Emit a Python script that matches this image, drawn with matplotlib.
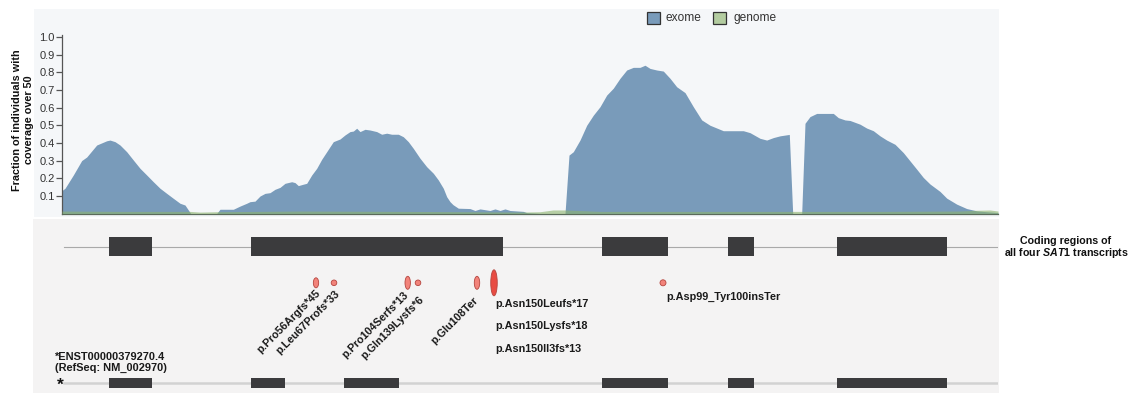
import matplotlib
matplotlib.use("Agg")
import matplotlib.pyplot as plt
from matplotlib.patches import Rectangle, Ellipse

plt.rcParams['font.family'] = ['Liberation Sans', 'DejaVu Sans']
plt.rcParams['mathtext.fontset'] = 'custom'
plt.rcParams['mathtext.it'] = 'Liberation Sans:italic:bold'
plt.rcParams['mathtext.rm'] = 'Liberation Sans:bold'
plt.rcParams['mathtext.bf'] = 'Liberation Sans:bold'

# ---------------- data ----------------
exome_pos = [62, 65, 73.3, 81.7, 86.7, 96.7, 106.7, 110, 115, 120, 126.7, 133.3, 140,
             146.7, 153.3, 160, 166.7, 173.3, 180, 185, 188.3, 190.7,
             216.7, 220, 233.3, 240, 246.7,
             250, 255, 260, 265, 270, 275, 280, 285, 291.7, 295, 298.3, 303.3, 306.7,
             311.7, 316.7, 321.7, 326.7, 333.3, 340, 345, 350, 353.3, 356.7, 360, 365,
             370, 376.7, 381.7, 386.7, 391.7, 398.3, 403.3, 408.3, 413.3, 420, 426.7,
             433.3, 438.3, 443.3, 446.7, 450, 453, 458.3, 470, 475, 480, 490, 495, 500,
             505, 510, 523.3, 526.7, 540, 565,
             569, 573.3, 580, 586.7, 593.3, 600, 606.7, 613.3, 620, 626.7, 633.3, 640,
             645, 650, 656.7, 663.3, 670, 676.7, 685, 693.3, 701.7, 710, 723.3, 743.3,
             750, 760, 766.7, 773.3, 780, 789.3, 792.7, 801.7,
             805, 810, 816.7, 833.3, 838.3, 845, 850, 860, 866.7, 873.3, 880, 886.7,
             895, 903.3, 910, 916.7, 923.3, 930, 940, 946.7, 956.7, 966.7, 976.7,
             986.7, 998]
exome_cov = [0.13, 0.143, 0.218, 0.30, 0.32, 0.388, 0.412, 0.416, 0.407, 0.388, 0.35,
             0.303, 0.256, 0.218, 0.18, 0.143, 0.114, 0.086, 0.058, 0.048, 0.02, 0.0,
             0.0, 0.024, 0.024, 0.042, 0.058,
             0.067, 0.07, 0.099, 0.114, 0.118, 0.137, 0.148, 0.171, 0.18, 0.175, 0.158,
             0.166, 0.171, 0.218, 0.256, 0.307, 0.35, 0.407, 0.422, 0.445, 0.464, 0.467,
             0.483, 0.464, 0.477, 0.473, 0.464, 0.449, 0.455, 0.449, 0.449, 0.435,
             0.407, 0.369, 0.313, 0.265, 0.228, 0.19, 0.143, 0.095, 0.067, 0.05, 0.03,
             0.028, 0.017, 0.026, 0.017, 0.026, 0.017, 0.026, 0.017, 0.012, 0.005,
             0.0, 0.0,
             0.331, 0.35, 0.416, 0.50, 0.557, 0.605, 0.671, 0.71, 0.766, 0.813, 0.828,
             0.828, 0.84, 0.822, 0.813, 0.807, 0.766, 0.718, 0.685, 0.605, 0.53, 0.50,
             0.469, 0.469, 0.458, 0.426, 0.416, 0.43, 0.44, 0.448, 0.0, 0.0,
             0.511, 0.549, 0.567, 0.567, 0.543, 0.53, 0.527, 0.506, 0.484, 0.469, 0.44,
             0.416, 0.392, 0.345, 0.298, 0.251, 0.204, 0.167, 0.125, 0.087, 0.053,
             0.028, 0.015, 0.01, 0.005]

genome_pos = [62, 120, 190, 200, 216, 300, 400, 470, 520, 540, 553, 565, 600, 700,
              790, 800, 880, 960, 975, 990, 998]
genome_cov = [0.014, 0.012, 0.012, 0.008, 0.01, 0.014, 0.012, 0.01, 0.008, 0.01, 0.02,
              0.02, 0.012, 0.012, 0.012, 0.012, 0.012, 0.014, 0.018, 0.02, 0.014]

yticks = [0.1, 0.2, 0.3, 0.4, 0.5, 0.6, 0.7, 0.8, 0.9, 1.0]
ytick_labels = ['0.1', '0.2', '0.3', '0.4', '0.5', '0.6', '0.7', '0.8', '0.9', '1.0']

exon_start_all = [109, 251, 601.7, 728, 837]
exon_end_all = [152, 502.7, 668.3, 754.3, 946.7]
exon_start_ref = [109, 251, 344.3, 601.7, 728, 837]
exon_end_ref = [152, 285, 399, 668.3, 754.3, 946.7]

mut_pos = [316, 334, 407.7, 418, 477, 494, 663]
mut_width = [5.3, 5.6, 5.4, 5.6, 5.4, 6.5, 6.0]
mut_height = [10, 5.6, 13, 5.6, 13, 26, 6.0]
mut_color = ['#f2837a', '#f2837a', '#f2837a', '#f2837a', '#f2837a', '#e84c43', '#f2837a']

rot_labels = ['p.Pro56Argfs*45', 'p.Leu67Profs*33', 'p.Pro104Serfs*13',
              'p.Gln139Lysfs*6', 'p.Glu108Ter']
flat_labels = ['p.Asn150Leufs*17', 'p.Asn150Lysfs*18', 'p.Asn150Il3fs*13']
ins_label = 'p.Asp99_Tyr100insTer'

W, H = 1131, 393
fig = plt.figure(figsize=(W / 100, H / 100), dpi=100)
fig.patch.set_facecolor('white')

def fr(x0, y0, x1, y1):
    return [x0 / W, 1 - y1 / H, (x1 - x0) / W, (y1 - y0) / H]

# panel backgrounds
fig.add_artist(Rectangle((34 / W, 1 - 217 / H), (999 - 34) / W, (217 - 9) / H,
                         transform=fig.transFigure, facecolor='#f5f7f9',
                         edgecolor='none', zorder=-10))
fig.add_artist(Rectangle((33 / W, 0), (999 - 33) / W, (393 - 219) / H,
                         transform=fig.transFigure, facecolor='#f4f3f3',
                         edgecolor='none', zorder=-10))

# ---------------- coverage axes ----------------
y0px, y1px = 213.5, 35
ax = fig.add_axes(fr(62, y1px, 998, y0px))
ax.set_facecolor('none')
ax.set_xlim(62, 998)
ax.set_ylim(0, (y0px - y1px) / 176.5)
ax.fill_between(exome_pos, exome_cov, 0, color='#799bba', linewidth=0, zorder=2)
ax.fill_between(genome_pos, genome_cov, 0, color='#8cb46e', alpha=0.6,
                linewidth=0, zorder=3)
ax.set_yticks(yticks)
ax.set_yticklabels(ytick_labels)
ax.set_xticks([])
ax.tick_params(axis='y', length=4.3, width=0.9, color='#555555', labelsize=8,
               labelcolor='#333333', pad=1)
for s in ['top', 'right']:
    ax.spines[s].set_visible(False)
ax.spines['left'].set_color('#555555')
ax.spines['left'].set_linewidth(0.9)
ax.spines['bottom'].set_color('#5a6a5a')
ax.spines['bottom'].set_linewidth(0.9)

# ---------------- overlay (pixel coords) ----------------
ov = fig.add_axes([0, 0, 1, 1])
ov.set_xlim(0, W)
ov.set_ylim(H, 0)
ov.axis('off')
ov.set_zorder(5)

ov.text(23.5, 120, 'Fraction of individuals with\ncoverage over 50', rotation=90,
        ha='center', va='center', fontsize=7.8, fontweight='bold',
        linespacing=1.25, color='#111111')

# legend
ov.add_patch(Rectangle((647, 11.7), 13, 12.6, facecolor='#799bba',
                       edgecolor='#333333', linewidth=0.9))
ov.text(666, 18.3, 'exome', ha='left', va='center', fontsize=8.6, color='#333333')
ov.add_patch(Rectangle((713.3, 11.7), 13, 12.6, facecolor='#b3cca0',
                       edgecolor='#333333', linewidth=0.9))
ov.text(733.3, 18.3, 'genome', ha='left', va='center', fontsize=8.6, color='#333333')

ov.text(1066, 241, 'Coding regions of', ha='center', va='center', fontsize=7.7,
        fontweight='bold', color='#111111')
ov.text(1066, 253.5, r'all four $\mathit{SAT1}$ transcripts', ha='center',
        va='center', fontsize=7.7, fontweight='bold', color='#111111')

# ---------------- gene model axes ----------------
gx = fig.add_axes(fr(62, 218, 998, 393))
gx.set_xlim(62, 998)
gx.set_ylim(393, 218)
gx.axis('off')
gx.set_zorder(4)

row1_y, row2_y = 246.5, 383.0
gx.plot([64, 996.7], [row1_y, row1_y], color='#a9a9a9', linewidth=0.8, zorder=1)
gx.plot([64, 996.7], [row2_y, row2_y], color='#d2d2d2', linewidth=1.8, zorder=1)
gx.barh([row1_y] * len(exon_start_all),
        [e - s for s, e in zip(exon_start_all, exon_end_all)],
        left=exon_start_all, height=19, color='#3b3b3d', zorder=2)
gx.barh([row2_y] * len(exon_start_ref),
        [e - s for s, e in zip(exon_start_ref, exon_end_ref)],
        left=exon_start_ref, height=9.5, color='#3b3b3d', zorder=2)

for x, w, h, c in zip(mut_pos, mut_width, mut_height, mut_color):
    gx.add_patch(Ellipse((x, 282.8), w, h, facecolor=c, edgecolor='#b5453f',
                         linewidth=0.6, zorder=3))

rot_anchor = [(3, 291), (4.3, 292.3), (-1, 293.3), (4.7, 298.3), (-0.3, 299)]
for lab, x, (dx, yy) in zip(rot_labels, mut_pos[:5], rot_anchor):
    gx.text(x + dx, yy, lab, rotation=45, rotation_mode='anchor', ha='right',
            va='center', fontsize=7.8, fontweight='bold', color='#1a1a1a')

for lab, yy in zip(flat_labels, [304, 326, 349.3]):
    gx.text(mut_pos[5] + 1, yy, lab, ha='left', va='center', fontsize=7.8,
            fontweight='bold', color='#1a1a1a')
gx.text(mut_pos[6] + 3, 296.7, ins_label, ha='left', va='center', fontsize=7.8,
        fontweight='bold', color='#1a1a1a')

gx.text(55, 357, '*ENST00000379270.4', ha='left', va='center', fontsize=7.9,
        fontweight='bold', color='#1a1a1a')
gx.text(55, 368.3, '(RefSeq: NM_002970)', ha='left', va='center', fontsize=7.9,
        fontweight='bold', color='#1a1a1a')
gx.text(60, 392.8, '*', ha='center', va='bottom', fontsize=12.5,
        fontweight='bold', color='#111111')

fig.savefig('out.png', dpi=100, facecolor='white')
